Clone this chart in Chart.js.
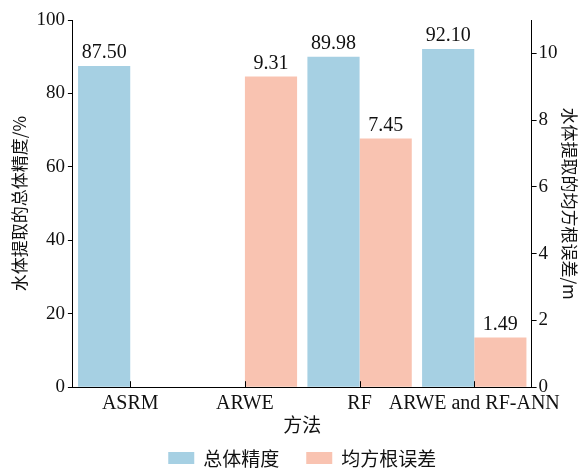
<!DOCTYPE html>
<html>
<head>
<meta charset="utf-8">
<script src="https://cdn.jsdelivr.net/npm/chart.js@4/dist/chart.umd.min.js"></script>
<style>
  html, body { margin: 0; padding: 0; background: #fff; }
  #wrap { width: 580px; height: 468px; }
</style>
</head>
<body>
<div id="wrap"><canvas id="chart"></canvas></div>
<script>
const methods = ["ASRM", "ARWE", "RF", "ARWE and RF-ANN"];
const accuracy = [87.50, null, 89.98, 92.10];   // 总体精度 (%)
const rmse = [null, 9.31, 7.45, 1.49];          // 均方根误差 (m)
const accuracyTicks = [0, 20, 40, 60, 80, 100];
const rmseTicks = [0, 2, 4, 6, 8, 10];

const serif = "'Liberation Serif', 'Times New Roman', serif";
const cjk = "'Noto Sans CJK SC', 'Noto Sans', sans-serif";
const blue = '#a6d0e3';
const salmon = '#f9c3b1';

// value labels above each bar
const valueLabels = {
    id: 'valueLabels',
    afterDatasetsDraw(chart) {
        const ctx = chart.ctx;
        ctx.save();
        ctx.font = "20px " + serif;
        ctx.fillStyle = '#111';
        ctx.textAlign = 'center';
        ctx.textBaseline = 'bottom';
        chart.data.datasets.forEach((ds, i) => {
            chart.getDatasetMeta(i).data.forEach((bar, j) => {
                if (ds.data[j] == null) return;
                ctx.fillText(ds.data[j].toFixed(2), bar.x, bar.y - 3);
            });
        });
        ctx.restore();
    }
};

// short tick marks pointing up into the plot on the x axis
const innerXTicks = {
    id: 'innerXTicks',
    afterDraw(chart) {
        const x = chart.scales.x;
        const ctx = chart.ctx;
        ctx.save();
        ctx.strokeStyle = '#000';
        ctx.lineWidth = 1;
        for (let i = 0; i < methods.length; i++) {
            const px = Math.round(x.getPixelForTick(i)) + 0.5;
            ctx.beginPath();
            ctx.moveTo(px, x.top);
            ctx.lineTo(px, x.top - 6);
            ctx.stroke();
        }
        ctx.restore();
    }
};

// legend under the axis title, wider gaps than the built-in one allows
const bottomLegend = {
    id: 'bottomLegend',
    afterDraw(chart) {
        const ctx = chart.ctx;
        const area = chart.chartArea;
        const boxW = 26, boxH = 12, gap = 9, itemGap = 27;
        ctx.save();
        ctx.font = "19px " + cjk;
        ctx.textBaseline = 'middle';
        ctx.fillStyle = '#111';
        const items = chart.data.datasets.map(ds => ({ text: ds.label, color: ds.backgroundColor }));
        let total = 0;
        items.forEach((it, i) => {
            it.w = ctx.measureText(it.text).width;
            total += boxW + gap + it.w + (i > 0 ? itemGap : 0);
        });
        let x = (area.left + area.right) / 2 - total / 2;
        const y = chart.height - 10;
        items.forEach((it) => {
            ctx.fillStyle = it.color;
            ctx.fillRect(x, y - boxH / 2, boxW, boxH);
            x += boxW + gap;
            ctx.fillStyle = '#111';
            ctx.fillText(it.text, x, y + 1);
            x += it.w + itemGap;
        });
        ctx.restore();
    }
};

new Chart(document.getElementById('chart'), {
    type: 'bar',
    data: {
        labels: methods,
        datasets: [
            {
                label: '总体精度',
                data: accuracy,
                yAxisID: 'y',
                backgroundColor: blue,
                categoryPercentage: 0.91,
                barPercentage: 1.0
            },
            {
                label: '均方根误差',
                data: rmse,
                yAxisID: 'y1',
                backgroundColor: salmon,
                categoryPercentage: 0.91,
                barPercentage: 1.0
            }
        ]
    },
    options: {
        responsive: true,
        maintainAspectRatio: false,
        animation: false,
        layout: { padding: { top: 20, right: 0, left: 9, bottom: 32 } },
        plugins: {
            legend: { display: false },
            tooltip: { enabled: false }
        },
        scales: {
            x: {
                grid: { display: false },
                border: { display: true, color: '#000', width: 1 },
                ticks: { color: '#111', font: { family: serif, size: 20 }, padding: -3, maxRotation: 0, autoSkip: false },
                title: { display: true, text: '方法', color: '#111', font: { family: cjk, size: 19 }, padding: { top: 0, bottom: 0 } }
            },
            y: {
                position: 'left',
                min: 0,
                max: 100,
                afterBuildTicks: (scale) => { scale.ticks = accuracyTicks.map(v => ({ value: v })); },
                grid: { drawOnChartArea: false, drawTicks: true, tickLength: 5, color: '#000' },
                border: { display: true, color: '#000', width: 1 },
                ticks: { color: '#111', font: { family: serif, size: 19 }, padding: 3 },
                title: { display: true, text: '水体提取的总体精度/%', color: '#111', font: { family: cjk, size: 17 }, padding: { top: 0, bottom: 4 } }
            },
            y1: {
                position: 'right',
                min: 0,
                max: 11,
                afterBuildTicks: (scale) => { scale.ticks = rmseTicks.map(v => ({ value: v })); },
                grid: { drawOnChartArea: false, drawTicks: true, tickLength: 5, color: '#000' },
                border: { display: true, color: '#000', width: 1 },
                ticks: { color: '#111', font: { family: serif, size: 19 }, padding: 2 },
                title: { display: true, text: '水体提取的均方根误差/m', color: '#111', font: { family: cjk, size: 17 }, padding: { top: 0, bottom: 0 } }
            }
        }
    },
    plugins: [valueLabels, innerXTicks, bottomLegend]
});
</script>
</body>
</html>
